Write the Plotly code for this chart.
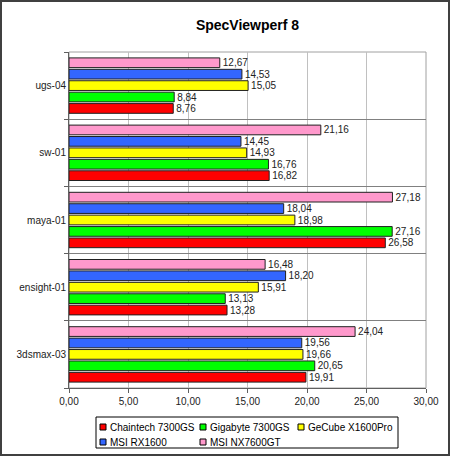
import plotly.graph_objects as go

categories = ["3dsmax-03", "ensight-01", "maya-01", "sw-01", "ugs-04"]
series_names = ["Chaintech 7300GS", "Gigabyte 7300GS", "GeCube X1600Pro", "MSI RX1600", "MSI NX7600GT"]
chaintech = [19.91, 13.28, 26.58, 16.82, 8.76]
gigabyte = [20.65, 13.13, 27.16, 16.76, 8.84]
gecube = [19.66, 15.91, 18.98, 14.93, 15.05]
msi_rx1600 = [19.56, 18.20, 18.04, 14.45, 14.53]
msi_nx7600gt = [24.04, 16.48, 27.18, 21.16, 12.67]
x_ticks = [0, 5, 10, 15, 20, 25, 30]

series_values = [chaintech, gigabyte, gecube, msi_rx1600, msi_nx7600gt]
colors = ["#FF0000", "#00FF00", "#FFFF00", "#3366FF", "#FF99CC"]

W, H = 450, 456
L, R, T, B = 69, 24, 52, 68
PW, PH = W - L - R, H - T - B
FONT = "Liberation Sans, Arial"

def px(x):
    return (x - L) / PW

def py(y):
    return (H - B - y) / PH

fig = go.Figure()
for name, vals, col in zip(series_names, series_values, colors):
    fig.add_trace(go.Bar(
        y=categories, x=vals, orientation="h", name=name,
        marker=dict(color=col, line=dict(color="#202020", width=1)),
        texttemplate="%{x:.2f}", textposition="outside", constraintext="none",
        textfont=dict(family=FONT, size=10, color="#222222"),
        cliponaxis=False, showlegend=False,
    ))

shapes = []
shapes.append(dict(type="rect", xref="paper", yref="paper", x0=0, x1=1, y0=0, y1=1,
                   line=dict(color="#A0A0A0", width=1), layer="below"))
shapes.append(dict(type="rect", xref="paper", yref="paper",
                   x0=px(1), x1=px(449), y0=py(455), y1=py(1),
                   line=dict(color="#404040", width=2)))
shapes.append(dict(type="rect", xref="paper", yref="paper",
                   x0=px(96), x1=px(398), y0=py(448), y1=py(417),
                   line=dict(color="#000000", width=1), fillcolor="white"))

annotations = []
leg_pos = [(100, 427), (200, 427), (298, 427), (100, 442), (200, 442)]
for (lx, ly), name, col in zip(leg_pos, series_names, colors):
    shapes.append(dict(type="rect", xref="paper", yref="paper",
                       x0=px(lx), x1=px(lx + 6), y0=py(ly + 3), y1=py(ly - 3),
                       line=dict(color="#000000", width=1), fillcolor=col))
    annotations.append(dict(xref="paper", yref="paper", x=px(lx + 8), y=py(ly),
                            text=name, showarrow=False, xanchor="left", yanchor="middle",
                            font=dict(family=FONT, size=10, color="#000000")))

fig.update_layout(
    width=W, height=H,
    margin=dict(l=L, r=R, t=T, b=B),
    paper_bgcolor="white", plot_bgcolor="white",
    separators=",.",
    barmode="group", bargap=0.15, bargroupgap=0.15,
    title=dict(text="<b>SpecViewperf 8</b>", x=0.5, xanchor="center", xref="paper",
               y=1 - 25 / H, yanchor="middle",
               font=dict(family=FONT, size=14, color="#000000")),
    font=dict(family=FONT, size=10, color="#222222"),
    xaxis=dict(range=[0, 30], tickvals=x_ticks, tickformat=".2f",
               showgrid=True, gridcolor="#C0C0C0", gridwidth=1,
               showline=True, linecolor="#606060", linewidth=1,
               ticks="outside", ticklen=4, tickcolor="#606060", zeroline=False,
               tickfont=dict(family=FONT, size=10, color="#222222")),
    yaxis=dict(categoryorder="array", categoryarray=categories,
               tickson="boundaries", showgrid=True, gridcolor="#808080", gridwidth=1,
               showline=True, linecolor="#606060", linewidth=1,
               ticks="outside", ticklen=4, tickcolor="#606060",
               tickfont=dict(family=FONT, size=10, color="#222222")),
    shapes=shapes, annotations=annotations,
)

fig.write_html("out.html")
